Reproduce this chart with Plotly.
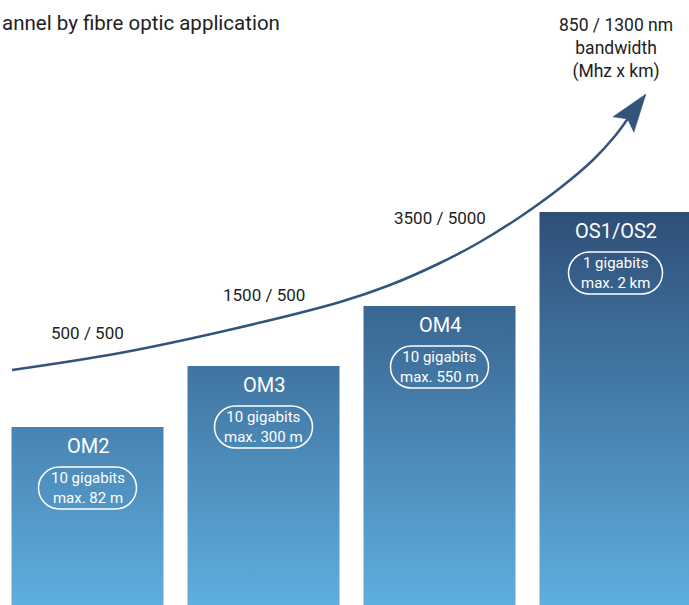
import numpy as np
import plotly.graph_objects as go

# fibre categories, bar heights (in px-like units from the baseline) and the texts in each bar
categories = ["OM2", "OM3", "OM4", "OS1/OS2"]
bar_heights = [178, 239, 299, 393]
speed_text = ["10 gigabits", "10 gigabits", "10 gigabits", "1 gigabits"]
reach_text = ["max. 82 m", "max. 300 m", "max. 550 m", "max. 2 km"]

# 850 / 1300 nm bandwidth labels above the bars and their heights
bandwidth_labels = ["500 / 500", "1500 / 500", "3500 / 5000"]
bandwidth_label_y = [272, 310, 387]

# growth arrow drawn over the bars (x in bar slots, y in the same units as the bars)
trend_x = [-0.429, 0.185, 0.827, 1.435, 1.719, 2.003, 2.230, 2.457, 2.685, 2.872, 2.997]
trend_y = [235, 252, 276, 303, 320, 342, 363, 388, 417, 445, 469]
arrow_tip = (3.173, 511)

W, H = 689, 605
SLOT_PX = 176
X_RANGE = [-87.5 / SLOT_PX, (W - 87.5) / SLOT_PX]
HALF_BAR = 76 / SLOT_PX

DARK = "#2e4f77"
LIGHT = "#5eaee0"
LINE = "#34557b"
TEXT = "#222222"
FONT = "Roboto, DejaVu Sans, sans-serif"

fig = go.Figure()

top = max(bar_heights)
for i, h in enumerate(bar_heights):
    x0, x1 = i - HALF_BAR, i + HALF_BAR
    fig.add_trace(
        go.Scatter(
            x=[x0, x1, x1, x0, x0],
            y=[0, 0, h, h, 0],
            mode="lines",
            line=dict(width=0),
            fill="toself",
            fillgradient=dict(
                type="vertical",
                colorscale=[[0, LIGHT], [1, DARK]],
                start=0,
                stop=top,
            ),
            hoverinfo="skip",
            showlegend=False,
        )
    )

# arrowhead worked out in pixel space from the last trend point to the tip
tx, ty = arrow_tip
dx = (tx - trend_x[-1]) * SLOT_PX
dy = ty - trend_y[-1]
n = np.hypot(dx, dy)
ux, uy = dx / n, dy / n
head_len, head_half, notch = 38, 13, 7
bx, by = -ux * head_len, -uy * head_len
px_, py_ = -uy, ux
notch_pt = (-ux * (head_len - notch), -uy * (head_len - notch))
pts = [
    (0, 0),
    (bx + px_ * head_half, by + py_ * head_half),
    notch_pt,
    (bx - px_ * head_half, by - py_ * head_half),
    (0, 0),
]

# the curve runs on into the notch of the head so there is no gap
fig.add_trace(
    go.Scatter(
        x=trend_x + [tx + notch_pt[0] / SLOT_PX],
        y=trend_y + [ty + notch_pt[1]],
        mode="lines",
        line=dict(color=LINE, width=2.5, shape="spline"),
        hoverinfo="skip",
        showlegend=False,
    )
)

fig.add_trace(
    go.Scatter(
        x=[tx + p[0] / SLOT_PX for p in pts],
        y=[ty + p[1] for p in pts],
        mode="lines",
        line=dict(color=LINE, width=0.5),
        fill="toself",
        fillcolor=LINE,
        hoverinfo="skip",
        showlegend=False,
    )
)


def pill_path(w, h):
    r = h / 2
    a = w / 2 - r
    k = 0.5523 * r
    return (
        f"M{-a},{-r} L{a},{-r} "
        f"C{a + k},{-r} {a + r},{-k} {a + r},0 "
        f"C{a + r},{k} {a + k},{r} {a},{r} "
        f"L{-a},{r} "
        f"C{-a - k},{r} {-a - r},{k} {-a - r},0 "
        f"C{-a - r},{-k} {-a - k},{-r} {-a},{-r} Z"
    )


for i, (cat, h) in enumerate(zip(categories, bar_heights)):
    fig.add_annotation(
        x=i, y=h - 19, text=cat, showarrow=False,
        font=dict(family=FONT, size=20, color="white"),
    )
    fig.add_annotation(
        x=i, y=h - 61, text=f"{speed_text[i]}<br>{reach_text[i]}", showarrow=False,
        font=dict(family=FONT, size=15, color="white"),
    )
    longest = max(len(speed_text[i]), len(reach_text[i]))
    fig.add_shape(
        type="path",
        xsizemode="pixel", ysizemode="pixel",
        xanchor=i, yanchor=h - 61,
        path=pill_path(4 * longest + 54, 42),
        line=dict(color="white", width=1.5),
        layer="above",
    )

for i, (lab, ly) in enumerate(zip(bandwidth_labels, bandwidth_label_y)):
    fig.add_annotation(
        x=i, y=ly, text=lab, showarrow=False,
        font=dict(family=FONT, size=17, color=TEXT),
    )

fig.add_annotation(
    x=3.0, y=557, text="850 / 1300 nm<br>bandwidth<br>(Mhz x km)", showarrow=False,
    font=dict(family=FONT, size=17.5, color=TEXT),
)

fig.add_annotation(
    xref="paper", x=0, xanchor="left", y=582, text="annel by fibre optic application",
    showarrow=False, font=dict(family=FONT, size=20.5, color=TEXT),
)

fig.update_layout(
    width=W,
    height=H,
    margin=dict(l=0, r=0, t=0, b=0),
    paper_bgcolor="white",
    plot_bgcolor="white",
    xaxis=dict(range=X_RANGE, visible=False, fixedrange=True),
    yaxis=dict(range=[0, H], visible=False, fixedrange=True),
    showlegend=False,
)

# the page body has a default 8px margin; drop it so the figure fills the window
fig.write_html(
    "out.html",
    config={"displayModeBar": False},
    post_script="document.body.style.margin='0';document.body.style.overflow='hidden';",
)
